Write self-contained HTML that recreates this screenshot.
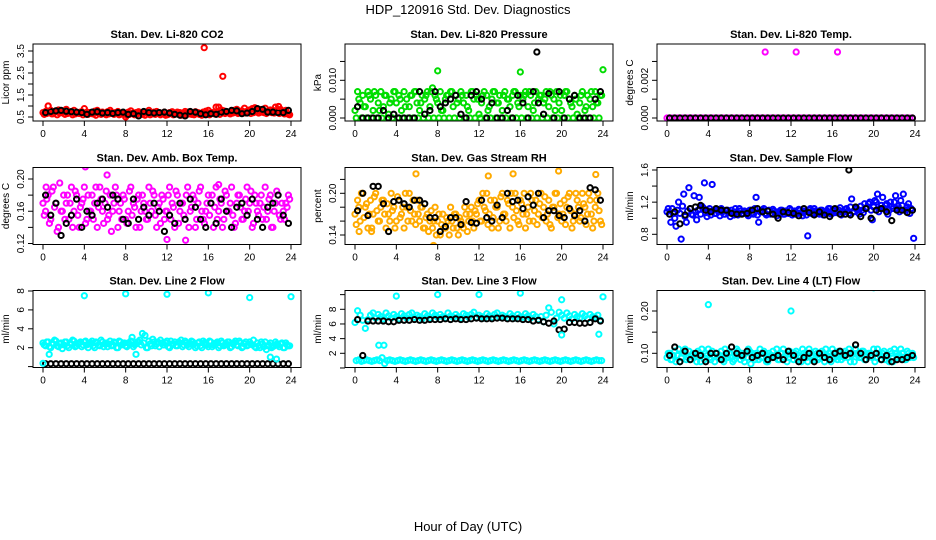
<!DOCTYPE html>
<html><head><meta charset="utf-8"><style>
html,body{margin:0;padding:0;background:#fff;}
svg{display:block;font-family:"Liberation Sans",sans-serif;}
</style></head><body>
<svg id="chart" width="936" height="540" viewBox="0 0 936 540">
<text x="468" y="14" text-anchor="middle" font-size="13">HDP_120916  Std. Dev. Diagnostics</text>
<text x="468" y="531" text-anchor="middle" font-size="13">Hour of Day (UTC)</text>
</svg>
<script>
// ---- data ----
const xTicks = [0,4,8,12,16,20,24];
const co2Red = [0.7,0.75,1.0,0.8,0.65,0.78,0.82,0.7,0.72,0.85,0.68,0.75,0.8,0.7,0.66,0.74,0.88,0.72,0.7,0.65,0.76,0.8,0.7,0.72,0.68,0.74,0.8,0.66,0.7,0.75,0.62,0.7,0.5,0.72,0.78,0.68,0.7,0.74,0.66,0.72,0.7,0.8,0.68,0.72,0.75,0.7,0.66,0.72,0.6,0.7,0.74,0.68,0.72,0.7,0.66,0.75,0.72,0.68,0.7,0.74,0.7,0.66,0.72,0.76,0.8,0.7,0.68,0.95,0.74,0.82,0.78,0.72,0.7,0.75,0.8,0.85,0.72,0.78,0.9,0.76,0.82,0.88,0.92,0.8,0.84,0.78,0.9,0.76,0.82,0.8,0.95,0.78,0.84,0.76,0.8,0.62];
const co2Red2 = [0.62,0.66,0.7,0.64,0.72,0.6,0.68,0.74,0.62,0.66,0.7,0.6,0.64,0.68,0.72,0.6,0.66,0.62,0.7,0.64,0.58,0.68,0.62,0.66,0.6,0.64,0.7,0.62,0.66,0.6,0.68,0.64,0.58,0.62,0.66,0.6,0.64,0.7,0.62,0.58,0.66,0.6,0.64,0.62,0.68,0.6,0.64,0.58,0.62,0.66,0.6,0.64,0.62,0.58,0.66,0.6,0.64,0.62,0.6,0.66,0.62,0.58,0.64,0.66,0.6,0.7,0.64,0.68,0.62,0.72,0.66,0.7,0.64,0.68,0.72,0.66,0.7,0.74,0.68,0.72,0.66,0.7,0.74,0.68,0.72,0.7,0.66,0.74,0.7,0.68,0.72,0.66,0.7,0.64,0.68,0.6];
const co2Black = [0.7,0.75,0.78,0.8,0.76,0.74,0.72,0.7,0.62,0.72,0.74,0.68,0.7,0.66,0.7,0.72,0.62,0.65,0.55,0.75,0.7,0.68,0.7,0.72,0.68,0.62,0.58,0.55,0.75,0.72,0.65,0.6,0.65,0.62,0.72,0.75,0.8,0.78,0.65,0.68,0.75,0.88,0.85,0.72,0.72,0.7,0.7,0.8];
const co2OutT = [15.6,17.4,0.5,17.0,22.8], co2OutV = [3.65,2.35,1.0,0.95,0.98];

const presGreen = [0.002,0.007,0.004,0.006,0.003,0.007,0.005,0.002,0.006,0.004,0.007,0.003,0.006,0.001,0.005,0.007,0.004,0.006,0.002,0.007,0.005,0.003,0.006,0.007,0.004,0.002,0.006,0.005,0.007,0.003,0.008,0.006,0.004,0.007,0.002,0.005,0.006,0.007,0.003,0.006,0.005,0.007,0.004,0.006,0.002,0.007,0.005,0.006,0.001,0.004,0.007,0.006,0.003,0.005,0.007,0.004,0.006,0.002,0.007,0.005,0.003,0.006,0.007,0.004,0.006,0.005,0.007,0.003,0.006,0.002,0.007,0.005,0.006,0.004,0.007,0.003,0.006,0.005,0.007,0.004,0.002,0.006,0.007,0.005,0.003,0.006,0.001,0.004,0.007,0.002,0.006,0.005,0.003,0.007,0.004,0.006];
const presGreen2 = [0,0.005,0,0.003,0,0.006,0,0.007,0,0.002,0,0.006,0,0.004,0,0.007,0,0.005,0,0.003,0,0.006,0,0.007,0,0.004,0,0.006,0,0.007,0,0.005,0,0.002,0,0.006,0,0.007,0,0.004,0,0.006,0,0.003,0,0.007,0,0.005,0,0.006,0,0.002,0,0.007,0,0.004,0,0.006,0,0.005,0,0.007,0,0.003,0,0.006,0,0.007,0,0.004,0,0.006,0,0.005,0,0.007,0,0.002,0,0.006,0,0.007,0,0.004,0,0.005,0,0.006,0,0.003,0,0.007,0,0.004,0,0.006];
const presBlack = [0.003,0,0,0,0,0.002,0,0.001,0,0,0,0,0.007,0.001,0.002,0.007,0.003,0.004,0.005,0.006,0.001,0,0.006,0.007,0.005,0,0.004,0,0,0.002,0,0.006,0.004,0,0.007,0.004,0.001,0.0065,0,0.007,0,0.005,0.006,0,0,0,0.005,0.007];
const presOutT = [8.0,16.0,24.0,17.6], presOutV = [0.0125,0.0122,0.0128,0.0175];

const tempMag = new Array(96).fill(0);
const tempBlack = new Array(48).fill(0);
const tempOutT = [9.5,12.5,16.5], tempOutV = [0.0035,0.0035,0.0035];

const ambMag = [0.17,0.16,0.18,0.15,0.19,0.17,0.14,0.16,0.18,0.17,0.15,0.19,0.16,0.18,0.14,0.17,0.19,0.15,0.16,0.18,0.17,0.14,0.19,0.16,0.17,0.15,0.18,0.16,0.19,0.14,0.17,0.18,0.15,0.16,0.19,0.17,0.14,0.18,0.16,0.17,0.15,0.19,0.16,0.18,0.14,0.17,0.18,0.15,0.16,0.19,0.17,0.14,0.18,0.16,0.17,0.15,0.19,0.16,0.18,0.14,0.17,0.19,0.15,0.16,0.18,0.17,0.14,0.19,0.16,0.17,0.15,0.18,0.16,0.19,0.14,0.17,0.18,0.15,0.16,0.19,0.17,0.14,0.18,0.16,0.17,0.15,0.19,0.16,0.18,0.14,0.17,0.18,0.15,0.16,0.17,0.18];
const ambMag2 = [0.155,0.175,0.145,0.185,0.165,0.135,0.195,0.16,0.15,0.18,0.17,0.14,0.185,0.155,0.165,0.175,0.145,0.18,0.16,0.15,0.19,0.165,0.175,0.145,0.185,0.155,0.135,0.17,0.18,0.16,0.15,0.175,0.145,0.185,0.155,0.165,0.175,0.14,0.18,0.16,0.15,0.17,0.185,0.155,0.165,0.145,0.175,0.16,0.18,0.15,0.165,0.185,0.145,0.17,0.155,0.18,0.14,0.165,0.175,0.15,0.185,0.16,0.145,0.17,0.155,0.18,0.165,0.15,0.175,0.14,0.185,0.16,0.17,0.155,0.145,0.18,0.165,0.15,0.175,0.16,0.185,0.145,0.17,0.155,0.18,0.165,0.15,0.175,0.14,0.16,0.185,0.155,0.17,0.15,0.165,0.175];
const ambBlack = [0.18,0.155,0.17,0.13,0.145,0.155,0.175,0.14,0.16,0.155,0.17,0.175,0.165,0.18,0.175,0.15,0.145,0.175,0.15,0.165,0.155,0.17,0.16,0.135,0.155,0.145,0.17,0.15,0.175,0.165,0.15,0.14,0.17,0.145,0.175,0.16,0.14,0.165,0.17,0.155,0.175,0.15,0.14,0.165,0.17,0.18,0.155,0.145];
const ambOutT = [4.1,6.2,0.3,17.0,12.0,13.8], ambOutV = [0.215,0.205,0.19,0.193,0.125,0.124];

const rhOrange = [0.17,0.19,0.16,0.2,0.18,0.15,0.19,0.17,0.2,0.16,0.18,0.19,0.15,0.17,0.2,0.18,0.16,0.19,0.17,0.15,0.18,0.2,0.16,0.17,0.19,0.16,0.18,0.15,0.17,0.16,0.15,0.18,0.16,0.14,0.17,0.15,0.16,0.18,0.15,0.17,0.14,0.16,0.15,0.17,0.16,0.18,0.15,0.17,0.19,0.16,0.18,0.2,0.17,0.15,0.19,0.18,0.16,0.2,0.17,0.19,0.15,0.18,0.2,0.16,0.19,0.17,0.15,0.18,0.2,0.16,0.19,0.17,0.2,0.18,0.16,0.19,0.15,0.18,0.2,0.17,0.16,0.19,0.18,0.2,0.15,0.17,0.19,0.16,0.2,0.18,0.17,0.19,0.15,0.18,0.2,0.16];
const rhOrange2 = [0.155,0.18,0.2,0.165,0.185,0.17,0.15,0.195,0.175,0.16,0.19,0.17,0.185,0.16,0.175,0.15,0.195,0.165,0.18,0.2,0.16,0.175,0.19,0.155,0.17,0.18,0.15,0.165,0.145,0.175,0.16,0.14,0.17,0.155,0.15,0.165,0.14,0.16,0.17,0.15,0.165,0.155,0.18,0.145,0.17,0.16,0.175,0.185,0.16,0.2,0.175,0.155,0.19,0.165,0.18,0.15,0.195,0.17,0.16,0.185,0.2,0.165,0.175,0.155,0.185,0.2,0.17,0.16,0.19,0.175,0.155,0.185,0.165,0.195,0.17,0.155,0.18,0.2,0.165,0.185,0.17,0.155,0.195,0.175,0.16,0.2,0.18,0.165,0.185,0.155,0.2,0.17,0.16,0.19,0.175,0.155];
const rhBlack = [0.175,0.2,0.168,0.21,0.21,0.185,0.145,0.188,0.19,0.185,0.18,0.19,0.19,0.185,0.165,0.165,0.145,0.152,0.165,0.165,0.155,0.188,0.158,0.157,0.19,0.165,0.16,0.183,0.165,0.2,0.188,0.19,0.178,0.195,0.183,0.2,0.165,0.175,0.175,0.168,0.165,0.178,0.168,0.175,0.16,0.208,0.205,0.19];
const rhOutT = [5.9,12.9,15.3,19.7,23.3,7.6,0.4,1.6], rhOutV = [0.228,0.225,0.228,0.232,0.227,0.125,0.145,0.145];

const flowBlue = [1.08,1.05,1.12,1.0,1.1,1.06,1.15,1.02,1.09,1.12,1.04,1.08,1.1,1.05,1.13,1.07,1.09,1.04,1.1,1.06,1.08,1.12,1.05,1.09,1.07,1.1,1.04,1.08,1.12,1.06,1.09,1.05,1.1,1.07,1.12,1.04,1.08,1.1,1.06,1.09,1.05,1.11,1.07,1.08,1.1,1.05,1.09,1.06,1.1,1.08,1.05,1.11,1.07,1.09,1.04,1.1,1.06,1.12,1.08,1.05,1.1,1.07,1.09,1.12,1.06,1.1,1.08,1.13,1.07,1.11,1.09,1.14,1.08,1.12,1.1,1.15,1.07,1.12,1.18,1.1,1.14,1.2,1.08,1.16,1.12,1.18,1.1,1.15,1.2,1.12,1.08,1.16,1.1,1.14,1.06,1.1];
const flowBlue2 = [1.12,0.95,1.06,0.9,1.2,0.74,1.3,0.95,1.38,1.05,1.28,0.98,1.26,1.15,1.44,1.02,1.12,1.42,1.06,1.1,1.03,1.08,1.05,1.1,1.02,1.07,1.12,1.04,1.09,1.06,1.08,1.03,1.1,1.05,1.26,0.95,1.08,1.12,1.04,1.1,1.06,1.09,1.03,1.08,1.1,1.05,1.07,1.12,1.04,1.09,1.06,1.1,1.03,1.08,0.78,1.12,1.05,1.09,1.06,1.1,1.04,1.08,1.12,1.05,1.09,1.07,1.1,1.04,1.08,1.12,1.06,1.24,1.08,1.12,1.05,1.1,1.18,1.14,1.2,0.98,1.22,1.3,1.12,1.26,1.16,1.05,1.2,1.12,1.28,1.15,1.22,1.3,1.1,1.18,1.12,0.75];
const flowBlack = [1.05,1.08,0.93,1.04,1.12,1.14,1.16,1.1,1.08,1.12,1.1,1.1,1.06,1.05,1.05,1.06,1.1,1.12,1.08,1.09,1.05,1.0,1.08,1.07,1.06,1.03,1.12,1.07,1.04,1.08,1.04,1.02,1.12,1.05,1.05,1.04,1.14,1.02,1.12,1.0,1.1,1.12,1.08,0.97,1.1,1.1,1.07,1.1];
const flowOutT = [17.6], flowOutV = [1.6];

const l2Cyan = [2.5,2.2,2.6,2.0,2.4,2.7,2.1,2.5,2.3,2.6,2.0,2.4,2.7,2.2,2.5,2.1,2.6,2.3,2.4,2.7,2.0,2.5,2.2,2.6,2.4,2.1,2.7,2.3,2.5,2.0,2.6,2.4,2.2,2.5,2.7,2.1,2.4,2.6,2.3,2.5,2.0,2.7,2.2,2.6,2.4,2.1,2.5,2.3,2.7,2.0,2.4,2.6,2.2,2.5,2.1,2.7,2.3,2.4,2.6,2.0,2.5,2.2,2.7,2.4,2.1,2.6,2.3,2.5,2.0,2.7,2.2,2.4,2.6,2.1,2.5,2.3,2.7,2.0,2.4,2.2,2.6,2.3,2.1,2.5,2.0,2.4,2.6,2.2,2.5,2.1,2.6,2.3,2.4,2.0,2.5,2.2];
const l2Cyan2 = [2.3,2.6,2.1,2.5,2.8,2.2,2.4,1.9,2.6,2.2,2.5,2.8,2.1,2.4,2.6,2.3,2.7,2.0,2.5,2.2,2.6,2.3,2.8,2.1,2.5,2.4,2.2,2.6,2.0,2.7,2.3,2.5,2.1,2.4,3.1,2.3,2.6,2.8,3.5,3.3,2.0,2.4,2.9,2.2,2.6,2.8,2.3,2.5,2.1,2.7,2.4,2.2,2.6,2.8,2.3,2.5,2.1,2.7,2.4,2.2,2.6,2.0,2.5,2.3,2.7,2.1,2.4,2.6,2.2,2.5,2.3,2.6,2.0,2.4,2.7,2.2,2.5,2.1,2.6,2.3,2.4,2.8,2.0,2.2,2.6,2.1,1.8,2.3,2.0,2.2,2.4,2.1,2.5,2.0,2.3,2.2];
const l2Black = new Array(48).fill(0.3);
const l2OutT = [4.0,8.0,12.0,16.0,20.0,24.0,0.6,9.0,22.0,22.6,0.0], l2OutV = [7.5,7.7,7.65,7.8,7.3,7.4,1.3,1.3,1.0,0.8,0.35];

const l3Cyan = [6.2,7.8,7.2,6.5,5.4,6.6,7.2,7.5,6.8,7.3,7.0,6.7,7.5,7.1,6.8,7.3,7.0,6.7,7.4,7.1,6.8,7.3,7.5,6.9,7.2,7.0,6.7,7.4,7.1,6.8,7.5,7.2,6.9,7.3,7.0,6.8,7.5,7.1,6.9,7.3,7.0,6.8,7.4,7.2,6.9,7.3,7.6,6.9,7.2,7.0,6.8,7.4,7.1,6.9,7.3,7.5,6.9,7.2,7.0,6.8,7.4,7.1,6.8,7.3,7.0,6.9,7.4,7.1,6.8,7.3,7.0,6.6,7.0,6.3,7.2,8.2,7.6,6.0,6.8,7.6,7.2,6.8,7.5,7.1,6.7,7.3,7.0,6.8,7.4,7.1,6.7,7.3,7.0,6.9,7.2,6.5];
const l3Cyan2 = [1.0,1.1,0.9,1.0,1.1,1.0,0.9,1.0,1.1,1.0,1.4,0.6,1.0,1.1,1.0,0.9,1.0,1.1,1.0,0.9,1.0,1.1,1.0,0.9,1.0,1.1,1.0,0.9,1.0,1.1,1.0,0.9,1.0,1.1,1.0,0.9,1.0,1.1,1.0,0.9,1.0,1.1,1.0,0.9,1.0,1.1,1.0,0.9,1.0,1.1,1.0,0.9,1.0,1.1,1.0,0.9,1.0,1.1,1.0,0.9,1.0,1.1,1.0,0.9,1.0,1.1,1.0,0.9,1.0,1.1,1.0,0.9,1.0,1.1,1.0,0.9,1.0,1.1,1.0,0.9,1.0,1.1,1.0,0.9,1.0,1.1,1.0,0.9,1.0,1.1,1.0,0.9,1.0,1.1,1.0,1.0];
const l3Black = [6.6,1.7,6.4,6.4,6.4,6.4,6.3,6.3,6.5,6.5,6.5,6.6,6.5,6.5,6.6,6.6,6.6,6.7,6.6,6.7,6.6,6.6,6.7,6.8,6.7,6.7,6.7,6.8,6.8,6.7,6.7,6.7,6.6,6.6,6.4,6.5,6.3,6.1,6.4,5.2,5.3,6.2,6.2,6.1,6.1,6.2,6.7,6.4];
const l3OutT = [4.0,8.0,12.0,16.0,20.0,24.0,2.3,2.8,20.0,23.6], l3OutV = [9.8,10.0,10.0,10.2,9.3,9.7,3.1,3.1,4.5,4.6];

const l4Cyan = [0.09,0.1,0.085,0.105,0.095,0.08,0.1,0.11,0.09,0.085,0.1,0.095,0.105,0.08,0.09,0.1,0.11,0.085,0.095,0.1,0.09,0.105,0.08,0.095,0.1,0.09,0.085,0.11,0.095,0.1,0.08,0.09,0.105,0.1,0.085,0.095,0.11,0.09,0.1,0.08,0.095,0.105,0.09,0.085,0.1,0.11,0.095,0.09,0.1,0.085,0.105,0.095,0.08,0.1,0.09,0.11,0.095,0.085,0.1,0.09,0.105,0.08,0.095,0.1,0.11,0.09,0.085,0.1,0.095,0.105,0.09,0.08,0.1,0.11,0.095,0.09,0.105,0.085,0.1,0.095,0.11,0.09,0.1,0.085,0.105,0.095,0.08,0.1,0.11,0.09,0.095,0.1,0.085,0.105,0.09,0.1];
const l4Cyan2 = [0.1,0.085,0.095,0.08,0.11,0.09,0.1,0.085,0.105,0.095,0.09,0.08,0.1,0.11,0.085,0.095,0.09,0.105,0.08,0.1,0.095,0.085,0.11,0.09,0.1,0.08,0.095,0.105,0.085,0.09,0.1,0.11,0.075,0.095,0.1,0.085,0.09,0.105,0.08,0.1,0.095,0.09,0.11,0.085,0.1,0.09,0.08,0.105,0.095,0.1,0.085,0.09,0.11,0.095,0.08,0.1,0.09,0.105,0.085,0.095,0.1,0.11,0.09,0.08,0.1,0.095,0.105,0.085,0.09,0.1,0.11,0.095,0.08,0.1,0.09,0.105,0.085,0.095,0.1,0.09,0.08,0.11,0.095,0.1,0.085,0.09,0.105,0.08,0.1,0.095,0.11,0.09,0.085,0.1,0.095,0.09];
const l4Black = [0.095,0.115,0.08,0.105,0.085,0.1,0.095,0.08,0.1,0.1,0.085,0.1,0.115,0.1,0.095,0.105,0.09,0.095,0.1,0.085,0.09,0.095,0.085,0.105,0.095,0.08,0.09,0.1,0.08,0.1,0.09,0.085,0.1,0.105,0.095,0.1,0.12,0.1,0.085,0.095,0.1,0.085,0.095,0.08,0.085,0.085,0.09,0.095];
const l4OutT = [4.0,12.0,20.0], l4OutV = [0.215,0.2,0.255];

// ---- layout ----
const svg = document.getElementById('chart');
const NS = 'http://www.w3.org/2000/svg';
const colX = [33,345,657], rowY = [44,167.5,290.5];
const BW = 268, BH = 77;
function mk(tag, attrs, parent){ const e=document.createElementNS(NS,tag); for(const k in attrs) e.setAttribute(k,attrs[k]); (parent||svg).appendChild(e); return e; }

const panels = [
 {title:'Stan. Dev. Li-820 CO2', yt:'Licor ppm', col:0,row:0, ymin:0.5,ymax:3.5,ypx:[117,51], ticks:[0.5,1,1.5,2,2.5,3,3.5], labels:[0.5,1.5,2.5,3.5], dec:1, color:'#ff0000', c1:co2Red, c2:co2Red2, k:co2Black, ot:co2OutT, ov:co2OutV},
 {title:'Stan. Dev. Li-820 Pressure', yt:'kPa', col:1,row:0, ymin:0,ymax:0.01,ypx:[118,80.3], ticks:[0,0.005,0.01,0.015], labels:[0,0.01], dec:3, color:'#00dd00', c1:presGreen, c2:presGreen2, k:presBlack, ot:presOutT, ov:presOutV},
 {title:'Stan. Dev. Li-820 Temp.', yt:'degrees C', col:2,row:0, ymin:0,ymax:0.002,ypx:[118,80.3], ticks:[0,0.001,0.002,0.003], labels:[0,0.002], dec:3, color:'#ff00ff', c1:tempMag, c2:null, k:tempBlack, ot:tempOutT, ov:tempOutV},
 {title:'Stan. Dev. Amb. Box Temp.', yt:'degrees C', col:0,row:1, ymin:0.12,ymax:0.2,ypx:[243.5,179], ticks:[0.12,0.14,0.16,0.18,0.2], labels:[0.12,0.16,0.2], dec:2, color:'#ff00ff', c1:ambMag, c2:ambMag2, k:ambBlack, ot:ambOutT, ov:ambOutV},
 {title:'Stan. Dev. Gas Stream RH', yt:'percent', col:1,row:1, ymin:0.14,ymax:0.2,ypx:[235,193.3], ticks:[0.14,0.16,0.18,0.2,0.22], labels:[0.14,0.2], dec:2, color:'#ffaa00', c1:rhOrange, c2:rhOrange2, k:rhBlack, ot:rhOutT, ov:rhOutV},
 {title:'Stan. Dev. Sample Flow', yt:'ml/min', col:2,row:1, ymin:0.8,ymax:1.6,ypx:[234.3,170], ticks:[0.8,1,1.2,1.4,1.6], labels:[0.8,1.2,1.6], dec:1, color:'#0000ff', c1:flowBlue, c2:flowBlue2, k:flowBlack, ot:flowOutT, ov:flowOutV},
 {title:'Stan. Dev. Line 2 Flow', yt:'ml/min', col:0,row:2, ymin:2,ymax:8,ypx:[347.7,291], ticks:[0,2,4,6,8], labels:[2,4,6,8], dec:0, color:'#00ffff', c1:l2Cyan, c2:l2Cyan2, k:l2Black, ot:l2OutT, ov:l2OutV},
 {title:'Stan. Dev. Line 3 Flow', yt:'ml/min', col:1,row:2, ymin:2,ymax:8,ypx:[353.3,309.3], ticks:[0,2,4,6,8,10], labels:[2,4,6,8], dec:0, color:'#00ffff', c1:l3Cyan, c2:l3Cyan2, k:l3Black, ot:l3OutT, ov:l3OutV},
 {title:'Stan. Dev. Line 4 (LT) Flow', yt:'ml/min', col:2,row:2, ymin:0.1,ymax:0.2,ypx:[353.3,311], ticks:[0.1,0.15,0.2], labels:[0.1,0.2], dec:2, color:'#00ffff', c1:l4Cyan, c2:l4Cyan2, k:l4Black, ot:l4OutT, ov:l4OutV}
];
const slug = s => s.toLowerCase().replace(/[^a-z0-9]+/g,'-').replace(/^-|-$/g,'');

panels.forEach(p=>{
  const bx = colX[p.col], by = rowY[p.row];
  const g = mk('g',{});
  
  
  const xs = h => bx + 10 + h*(248/24);
  const ys = v => p.ypx[0] + (v-p.ymin)*(p.ypx[1]-p.ypx[0])/(p.ymax-p.ymin);
  const inBox = y => y>=by-2 && y<=by+BH+2;
  const clip = 'clip-'+p.col+'-'+p.row;
  const cp = mk('clipPath',{id:clip},g); mk('rect',{x:bx,y:by,width:BW,height:BH},cp);
  const t = mk('text',{x:bx+BW/2,y:by-6,'text-anchor':'middle','font-size':'11','font-weight':'bold'},g);
  t.textContent = p.title;
  
  
  const pts = mk('g',{'clip-path':'url(#'+clip+')',fill:'none','stroke-width':'2'},g);
  const drawSeries = (arr, step, off, col, name)=>{
    arr.forEach((v,i)=>{
      const c = mk('circle',{cx:xs(off+i*step),cy:ys(v),r:2.6,stroke:col},pts);
      
      
    });
  };
  if (p.c2) drawSeries(p.c2, 0.25, 0.12, p.color, 'point-series-b');
  drawSeries(p.c1, 0.25, 0, p.color, 'point-series-a');
  drawSeries(p.k, 0.5, 0.25, '#000', 'point-black');
  p.ot.forEach((tt,i)=>{
    const isBlack = (p===panels[1] && i===3) || (p===panels[5]);
    const c = mk('circle',{cx:xs(tt),cy:ys(p.ov[i]),r:2.6,stroke:isBlack?'#000':p.color},pts);
    
    
  });
  const r = mk('rect',{x:bx,y:by,width:BW,height:BH,fill:'none',stroke:'#000','stroke-width':'1'},g);
  
  
  xTicks.forEach(h=>{
    mk('line',{x1:xs(h),x2:xs(h),y1:by+BH,y2:by+BH+5,stroke:'#000'},g);
    const l = mk('text',{x:xs(h),y:by+BH+16,'text-anchor':'middle','font-size':'10'},g);
    l.textContent = h;
    
    
  });
  p.ticks.forEach(v=>{
    const y = ys(v); if(!inBox(y)) return;
    mk('line',{x1:bx-5,x2:bx,y1:y,y2:y,stroke:'#000'},g);
  });
  p.labels.forEach(v=>{
    const y = ys(v);
    const l = mk('text',{x:bx-9,y:y,'text-anchor':'middle','font-size':'10',transform:'rotate(-90 '+(bx-9)+' '+y+')'},g);
    l.textContent = v.toFixed(p.dec);
    
    
  });
  const yt = mk('text',{x:bx-24,y:by+BH/2,'text-anchor':'middle','font-size':'10',transform:'rotate(-90 '+(bx-24)+' '+(by+BH/2)+')'},g);
  yt.textContent = p.yt;
  
  
});
</script>
</body></html>
